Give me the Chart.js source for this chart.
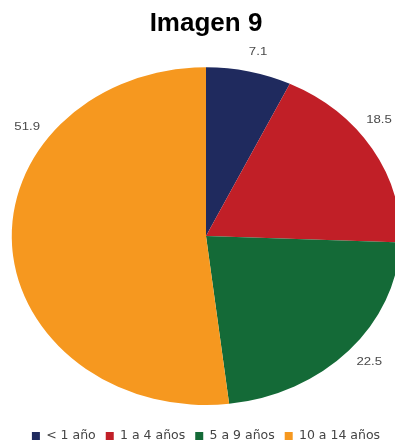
<!DOCTYPE html>
<html>
<head>
<meta charset="utf-8">
<script src="https://cdn.jsdelivr.net/npm/chart.js@4/dist/chart.umd.min.js"></script>
<style>
  html, body { margin: 0; padding: 0; background: #ffffff; }
  #wrap { width: 395px; height: 443px; position: relative; }
</style>
</head>
<body>
<div id="wrap"><canvas id="c"></canvas></div>
<script>
const categories = ['< 1 año', '1 a 4 años', '5 a 9 años', '10 a 14 años'];
const values = [7.1, 18.5, 22.5, 51.9];
const valueLabels = ['7.1', '18.5', '22.5', '51.9'];
const colors = ['#1f2a5e', '#c11f27', '#146a37', '#f6981f'];
const titleText = 'Imagen 9';

const STRETCH_X = 1.15;

const ellipsePlugin = {
  id: 'ellipse',
  beforeDatasetsDraw(chart) {
    const arc = chart.getDatasetMeta(0).data[0];
    const ctx = chart.ctx;
    ctx.save();
    ctx.translate(arc.x, arc.y);
    ctx.scale(STRETCH_X, 1);
    ctx.translate(-arc.x, -arc.y);
  },
  afterDatasetsDraw(chart) {
    chart.ctx.restore();
  }
};

const labelPlugin = {
  id: 'sliceLabels',
  afterDatasetsDraw(chart, args, opts) {
    const ctx = chart.ctx;
    const meta = chart.getDatasetMeta(0);
    meta.data.forEach((arc, i) => {
      const shift = (opts.angleShift[i] || 0) * Math.PI / 180;
      const mid = (arc.startAngle + arc.endAngle) / 2 + shift;
      const r = arc.outerRadius * opts.radial;
      const px = arc.x + Math.cos(mid) * r * STRETCH_X;
      const py = arc.y + Math.sin(mid) * r;
      ctx.save();
      ctx.translate(px, py);
      ctx.scale(opts.textStretch, 1);
      ctx.font = '11px "Liberation Sans", Arial, sans-serif';
      ctx.fillStyle = '#4a4a4a';
      ctx.textAlign = 'center';
      ctx.textBaseline = 'middle';
      ctx.fillText(valueLabels[i], 0, 0);
      ctx.restore();
    });
  }
};

new Chart(document.getElementById('c'), {
  type: 'pie',
  data: {
    labels: categories,
    datasets: [{
      data: values,
      backgroundColor: colors,
      borderWidth: 0
    }]
  },
  options: {
    responsive: true,
    maintainAspectRatio: false,
    animation: false,
    layout: { padding: { left: 17, right: 0, top: 0, bottom: -9.25 } },
    plugins: {
      title: {
        display: true,
        text: titleText,
        color: '#000000',
        font: { family: '"Liberation Sans", Arial, sans-serif', size: 26, weight: 'bold' },
        padding: { top: 8, bottom: 28 }
      },
      legend: {
        position: 'bottom',
        title: {
          display: true,
          text: ' ',
          font: { size: 1, lineHeight: 1.2 },
          padding: { top: 13.55, bottom: 0 }
        },
        labels: {
          boxWidth: 8,
          boxHeight: 8,
          color: '#444444',
          padding: 10,
          font: { family: '"DejaVu Sans", sans-serif', size: 12.5 }
        }
      },
      tooltip: { enabled: false },
      sliceLabels: { radial: 1.125, textStretch: 1.2, angleShift: [1, -6.5, -1, 38.5] }
    }
  },
  plugins: [ellipsePlugin, labelPlugin]
});
</script>
</body>
</html>
